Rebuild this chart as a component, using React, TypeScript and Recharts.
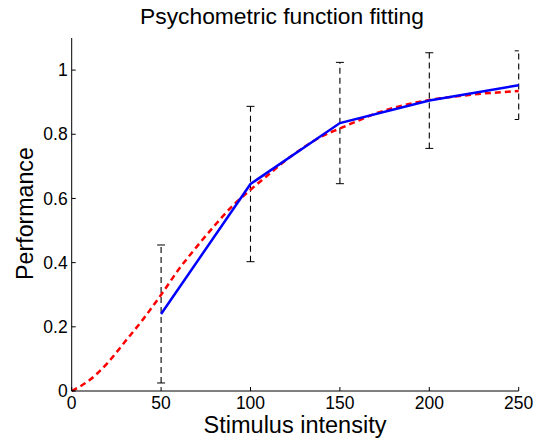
import React from 'react';
import { ComposedChart, Line, XAxis, YAxis, ErrorBar, Scatter } from 'recharts';

const fitX = [0, 10, 20, 30, 40, 50, 60, 70, 80, 90, 100, 110, 120, 130, 140, 150, 160, 170, 180, 190, 200, 210, 220, 230, 240, 250];
const fitY = [0, 0.034, 0.087, 0.155, 0.224, 0.3, 0.38, 0.45, 0.516, 0.577, 0.627, 0.674, 0.72, 0.76, 0.794, 0.818, 0.842, 0.865, 0.882, 0.896, 0.907, 0.915, 0.921, 0.927, 0.931, 0.935];
const stimX = [50, 100, 150, 200, 250];
const meanY = [0.24, 0.645, 0.835, 0.905, 0.953];
const errY = [0.215, 0.242, 0.189, 0.149, 0.107];
const xTicks = [0, 50, 100, 150, 200, 250];
const yTicks = [0, 0.2, 0.4, 0.6, 0.8, 1];
const xDomain = [0, 250];
const yDomain = [0, 1.1];

const fitRows = fitX.map((x, i) => ({ x, y: fitY[i] }));
const meanRows = stimX.map((x, i) => ({ x, y: meanY[i], err: errY[i] }));
const capRows = stimX.flatMap((x, i) => [
  { x, y: meanY[i] + errY[i] },
  { x, y: meanY[i] - errY[i] },
]);

const FONT = 'Liberation Sans, Arial, Helvetica, sans-serif';

const Cap = (p: any) => {
  const atRight = p.payload && p.payload.x >= xDomain[1];
  const atLeft = p.payload && p.payload.x <= xDomain[0];
  const x1 = atLeft ? p.cx : p.cx - 4;
  const x2 = atRight ? p.cx : p.cx + 4;
  return <line x1={x1} x2={x2} y1={p.cy} y2={p.cy} stroke="#000" strokeWidth={1} />;
};

export default function App() {
  return (
    <div style={{ position: 'absolute', left: 0, top: 0, width: 548, height: 441, background: '#fff' }}>
      <ComposedChart
        width={548}
        height={441}
        margin={{ top: 38, right: 29.3, bottom: 10, left: 11.7 }}
      >
        <XAxis
          dataKey="x"
          type="number"
          domain={xDomain}
          ticks={xTicks}
          interval={0}
          height={40}
          tickSize={-4}
          tickMargin={10}
          axisLine={{ stroke: '#000', strokeWidth: 1 }}
          tickLine={{ stroke: '#000', strokeWidth: 1 }}
          tick={{ fill: '#000', fontSize: 17.5, fontFamily: FONT }}
        />
        <YAxis
          dataKey="y"
          type="number"
          domain={yDomain}
          ticks={yTicks}
          interval={0}
          width={60}
          tickSize={-4}
          tickMargin={8}
          axisLine={{ stroke: '#000', strokeWidth: 1 }}
          tickLine={{ stroke: '#000', strokeWidth: 1 }}
          tick={{ fill: '#000', fontSize: 17.5, fontFamily: FONT }}
        />
        <Line
          data={meanRows}
          dataKey="y"
          stroke="none"
          dot={false}
          activeDot={false}
          isAnimationActive={false}
          legendType="none"
        >
          <ErrorBar dataKey="err" width={0} stroke="#000" strokeWidth={1.1} strokeDasharray="6 4" direction="y" isAnimationActive={false} />
        </Line>
        <Scatter data={capRows} dataKey="y" shape={Cap} isAnimationActive={false} legendType="none" />
        <Line
          data={fitRows}
          dataKey="y"
          type="monotone"
          stroke="#ff0000"
          strokeWidth={2.5}
          strokeDasharray="6 4"
          dot={false}
          activeDot={false}
          isAnimationActive={false}
        />
        <Line
          data={meanRows}
          dataKey="y"
          type="linear"
          stroke="#0000ff"
          strokeWidth={2.5}
          dot={false}
          activeDot={false}
          isAnimationActive={false}
        />
        <text x={282} y={23.5} textAnchor="middle" fontSize={22.8} fontFamily={FONT} fill="#000">
          Psychometric function fitting
        </text>
        <text x={295} y={433} textAnchor="middle" fontSize={23.5} fontFamily={FONT} fill="#000">
          Stimulus intensity
        </text>
        <text x={33} y={213.5} transform="rotate(-90, 33, 213.5)" textAnchor="middle" fontSize={23.2} fontFamily={FONT} fill="#000">
          Performance
        </text>
      </ComposedChart>
    </div>
  );
}
